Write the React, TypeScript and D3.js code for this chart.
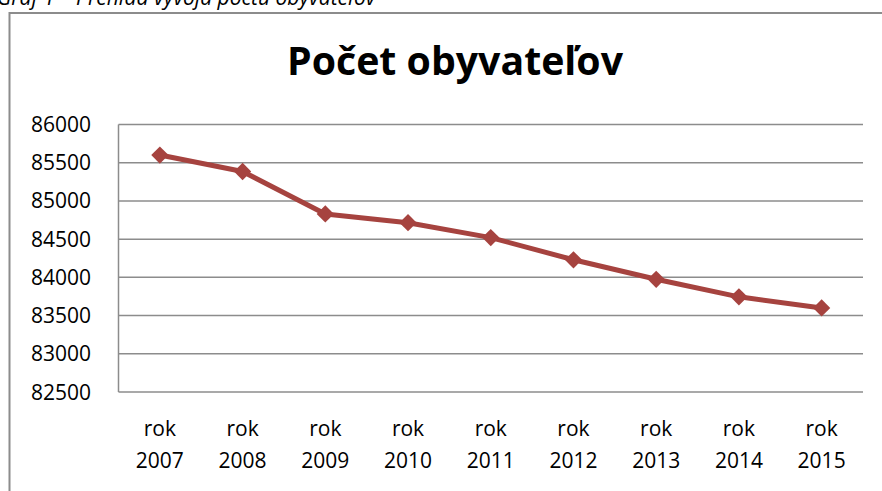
import React from "react";
import * as d3 from "d3";

const categories = ["2007", "2008", "2009", "2010", "2011", "2012", "2013", "2014", "2015"];
const population = [85600, 85385, 84830, 84715, 84520, 84230, 83975, 83745, 83600];
const yTicks = [82500, 83000, 83500, 84000, 84500, 85000, 85500, 86000];
const title = "Počet obyvateľov";
const caption = "Graf 1 – Prehľad vývoja počtu obyvateľov";

const W = 882;
const H = 491;
const plot = { left: 118.5, right: 863, top: 124.5, bottom: 392 };
const FONT = "'Open Sans', 'Liberation Sans', sans-serif";
const LINE = "#A6433F";
const GRID = "#8C8C8C";

export default function App() {
  const x = d3.scaleBand<string>().domain(categories).range([plot.left, plot.right]);
  const y = d3.scaleLinear().domain([82500, 86000]).range([plot.bottom, plot.top]);
  const line = d3
    .line<number>()
    .x((_, i) => (x(categories[i]) as number) + x.bandwidth() / 2)
    .y((d) => y(d));
  const diamond = d3.symbol().type(d3.symbolDiamond2).size(190)();

  return (
    <svg
      width={W}
      height={H}
      style={{ position: "absolute", left: 0, top: 0, background: "#fff" }}
    >
      <text x={-3} y={5} fontFamily={FONT} fontStyle="italic" fontSize={21} fill="#000">
        {caption}
      </text>
      <rect x={9.5} y={13} width={900} height={500} fill="#fff" stroke={GRID} strokeWidth={2} />
      <text
        x={455}
        y={75}
        textAnchor="middle"
        fontFamily={FONT}
        fontWeight="bold"
        fontSize={40}
        textLength={336}
        lengthAdjust="spacingAndGlyphs"
        fill="#000"
      >
        {title}
      </text>
      {yTicks.map((t) => (
        <g key={t}>
          <line
            x1={plot.left}
            x2={plot.right}
            y1={y(t)}
            y2={y(t)}
            stroke={GRID}
            strokeWidth={1.5}
          />
          <text
            x={91}
            y={y(t)}
            dy="0.36em"
            textAnchor="end"
            fontFamily={FONT}
            fontSize={21}
            fill="#000"
          >
            {t}
          </text>
        </g>
      ))}
      <line x1={plot.left} x2={plot.left} y1={plot.top} y2={plot.bottom} stroke={GRID} strokeWidth={1.5} />
      {categories.map((c) => {
        const cx = (x(c) as number) + x.bandwidth() / 2;
        return (
          <text key={c} textAnchor="middle" fontFamily={FONT} fontSize={21} fill="#000">
            <tspan x={cx} y={436}>rok</tspan>
            <tspan x={cx} y={468}>{c}</tspan>
          </text>
        );
      })}
      <path d={line(population) ?? ""} fill="none" stroke={LINE} strokeWidth={5} strokeLinejoin="round" />
      {population.map((v, i) => (
        <path
          key={i}
          d={diamond ?? ""}
          transform={`translate(${(x(categories[i]) as number) + x.bandwidth() / 2},${y(v)})`}
          fill={LINE}
        />
      ))}
    </svg>
  );
}
